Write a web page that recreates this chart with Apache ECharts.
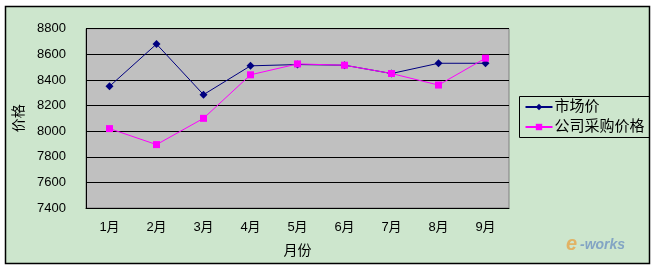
<!DOCTYPE html>
<html><head><meta charset="utf-8">
<script src="https://cdn.jsdelivr.net/npm/echarts@6/dist/echarts.min.js"></script>
<style>html,body{margin:0;padding:0;background:#fff}#c{width:656px;height:269px}</style>
</head><body><div id="c"></div>
<script>
const months = ['1月','2月','3月','4月','5月','6月','7月','8月','9月'];
const marketPrice = [8350, 8680, 8285, 8510, 8520, 8515, 8450, 8530, 8530];
const purchasePrice = [8020, 7895, 8100, 8440, 8525, 8515, 8450, 8360, 8570];
const yTicks = {min: 7400, max: 8800, step: 200};

const font = "'Liberation Sans', 'Noto Sans CJK SC', sans-serif";
const chart = echarts.init(document.getElementById('c'), null, {renderer: 'canvas'});
chart.setOption({
  animation: false,
  backgroundColor: '#fff',
  textStyle: {fontFamily: font},
  graphic: [
    {type: 'rect', z: -10, shape: {x: 5.5, y: 6.5, width: 644, height: 257},
     style: {fill: '#cde6cd', stroke: '#000', lineWidth: 1.5}},
    {type: 'text', left: 566, top: 234, z: 10,
     style: {text: 'e', fill: '#e8a040', font: 'italic bold 20px ' + font, opacity: 0.75}},
    {type: 'text', left: 580, top: 238, z: 10,
     style: {text: '-works', fill: '#6a8fc0', font: 'italic bold 14px ' + font, opacity: 0.75}}
  ],
  grid: {left: 86, right: 147, top: 28.7, bottom: 61, show: true,
         backgroundColor: '#c0c0c0', borderColor: '#808080', borderWidth: 1},
  legend: {
    orient: 'vertical', left: 519.5, top: 96.5,
    backgroundColor: 'transparent', borderColor: '#000', borderWidth: 1,
    padding: [3, 5, 3, 5], itemGap: 5, itemWidth: 27, itemHeight: 8,
    textStyle: {fontSize: 15, color: '#000', fontFamily: font, padding: [0, 0, 0, -3]},
    data: ['市场价', '公司采购价格']
  },
  xAxis: {
    type: 'category', data: months, boundaryGap: true,
    name: '月份', nameLocation: 'middle', nameGap: 36,
    nameTextStyle: {fontSize: 14, color: '#000'},
    axisLine: {lineStyle: {color: '#000', width: 1}},
    axisTick: {inside: true, length: 4, lineStyle: {color: '#000'}},
    axisLabel: {fontSize: 13, color: '#000', margin: 13},
    splitLine: {show: false}
  },
  yAxis: {
    type: 'value', min: yTicks.min, max: yTicks.max, interval: yTicks.step,
    name: '价格', nameLocation: 'middle', nameGap: 57, nameRotate: 90,
    nameTextStyle: {fontSize: 14, color: '#000'},
    axisLine: {show: true, lineStyle: {color: '#000', width: 1}},
    axisTick: {show: false},
    axisLabel: {fontSize: 13, color: '#000', margin: 20, formatter: v => String(v)},
    splitLine: {show: true, lineStyle: {color: '#000', width: 1}}
  },
  series: [
    {name: '市场价', type: 'line', data: marketPrice, symbol: 'diamond', symbolSize: 8,
     lineStyle: {color: '#000080', width: 1}, itemStyle: {color: '#000080'}, z: 3},
    {name: '公司采购价格', type: 'line', data: purchasePrice, symbol: 'rect', symbolSize: 7,
     lineStyle: {color: '#ff00ff', width: 1}, itemStyle: {color: '#ff00ff'}, z: 4}
  ]
});
</script></body></html>
